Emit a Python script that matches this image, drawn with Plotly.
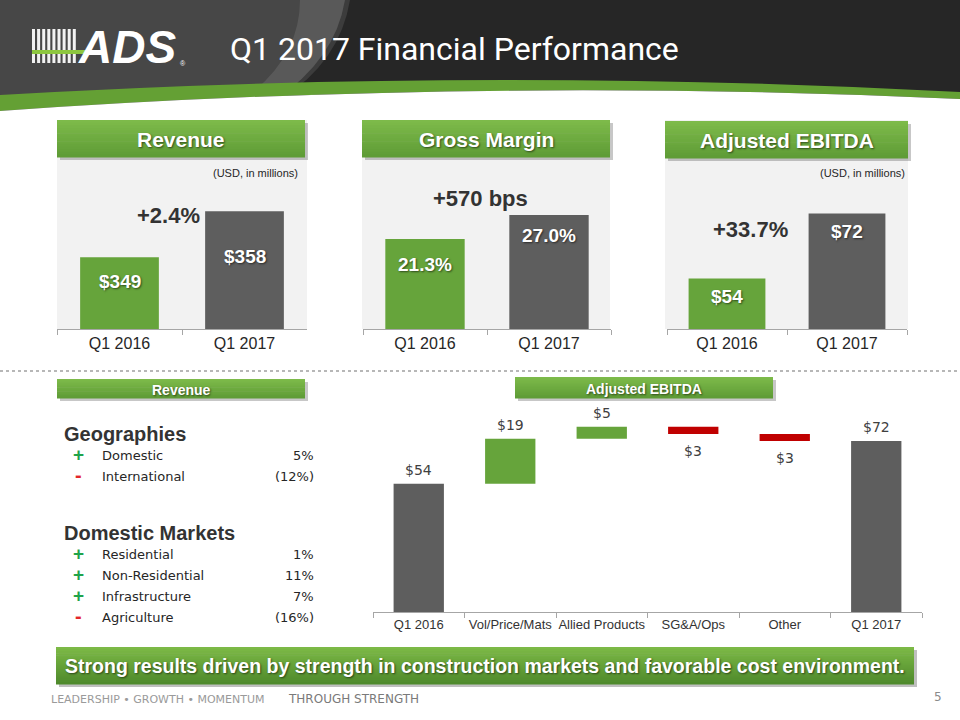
import plotly.graph_objects as go

W, H = 960, 720

# ---------------- data ----------------
periods = ["Q1 2016", "Q1 2017"]
revenue = [349, 358]
gross_margin = [21.3, 27.0]
adj_ebitda = [54, 72]
change_labels = ["+2.4%", "+570 bps", "+33.7%"]

bridge_categories = ["Q1 2016", "Vol/Price/Mats", "Allied Products", "SG&A/Ops", "Other", "Q1 2017"]
bridge_values = [54, 19, 5, -3, -3, 72]
bridge_measures = ["absolute", "relative", "relative", "relative", "relative", "total"]

geo_names = ["Domestic", "International"]
geo_changes = [5, -12]
market_names = ["Residential", "Non-Residential", "Infrastructure", "Agriculture"]
market_changes = [1, 11, 7, -16]

# ---------------- styles ----------------
GREEN = "#66a43b"
GRAY = "#5e5e5e"
RED = "#c00000"
HDR_TOP, HDR_BOT = "#7dba4a", "#5f9c36"
SANS = "Liberation Sans, Arial, sans-serif"
VERD = "DejaVu Sans, Verdana, sans-serif"
SHADOW = "1px 1px 2px rgba(0,0,0,0.55)"


def X(p):
    return p / W


def Y(p):
    return 1 - p / H


shapes = []
annotations = []


def hexrgb(c):
    c = c.lstrip("#")
    return tuple(int(c[i:i + 2], 16) for i in (0, 2, 4))


def mix(c1, c2, t):
    a, b = hexrgb(c1), hexrgb(c2)
    return "rgb(%d,%d,%d)" % tuple(round(a[i] + (b[i] - a[i]) * t) for i in range(3))


def rect(x0, y0, x1, y1, color, layer="below"):
    shapes.append(dict(type="rect", xref="paper", yref="paper", x0=X(x0), x1=X(x1),
                       y0=Y(y1), y1=Y(y0), fillcolor=color, line=dict(width=0), layer=layer))


def grad_rect(x0, y0, x1, y1, ctop, cbot, n=14):
    h = (y1 - y0) / n
    for i in range(n):
        rect(x0, y0 + i * h, x1, y0 + (i + 1) * h + 0.6, mix(ctop, cbot, i / (n - 1)))


def path(d_pts, color, layer="below"):
    shapes.append(dict(type="path", xref="paper", yref="paper", path=d_pts,
                       fillcolor=color, line=dict(width=0), layer=layer))


def P(x, y):
    return "%.5f,%.5f" % (X(x), Y(y))


def text(x, y, s, size, color="#333333", family=SANS, bold=False, xanchor="center",
         shadow=None, italic=False):
    f = dict(size=size, color=color, family=family)
    if bold:
        f["weight"] = "bold"
    if italic:
        f["style"] = "italic"
    if shadow:
        f["shadow"] = shadow
    annotations.append(dict(xref="paper", yref="paper", x=X(x), y=Y(y), text=s,
                            showarrow=False, xanchor=xanchor, yanchor="middle", font=f))


def header(x0, y0, x1, y1, label, size):
    rect(x0 + 3, y0 + 3, x1 + 3, y1 + 3, "rgba(0,0,0,0.22)")
    grad_rect(x0, y0, x1, y1, HDR_TOP, HDR_BOT)
    text((x0 + x1) / 2, (y0 + y1) / 2 + 1, label, size, "white", bold=True, shadow=SHADOW)


# ---------------- slide header ----------------
rect(0, 0, 960, 115, "#262626")
path("M" + P(0, 0) + " L" + P(345, 0) + " Q" + P(335, 60) + " " + P(275, 100)
     + " L" + P(0, 112) + " Z", "#474747")
path("M" + P(300, 0) + " L" + P(350, 0) + " Q" + P(340, 62) + " " + P(280, 100)
     + " L" + P(240, 102) + " Q" + P(300, 60) + " " + P(300, 0) + " Z", "rgba(255,255,255,0.10)")
# green swoosh
path("M" + P(0, 95) + " Q" + P(480, 66.5) + " " + P(960, 92) + " L" + P(960, 99)
     + " Q" + P(480, 77) + " " + P(0, 111) + " Z", "#64a034")
# white area below swoosh
path("M" + P(0, 111) + " Q" + P(480, 77) + " " + P(960, 99) + " L" + P(960, 130)
     + " L" + P(0, 130) + " Z", "#ffffff")

# logo
for i in range(9):
    rect(32 + i * 5.1, 29, 35 + i * 5.1, 63, "#f2f2f2")
rect(32, 50, 104, 54, "#8dc63f")
text(76, 47, "ADS", 46, "white", bold=True, italic=True, xanchor="left")
text(178, 63, "®", 7, "white", xanchor="left")
text(228, 49, "Q1 2017 Financial Performance", 32, "white", family="Roboto, sans-serif",
     xanchor="left")

# ---------------- top panels ----------------
panels = [(57, 307), (362, 610), (665, 908)]
for x0, x1 in panels:
    rect(x0, 120, x1, 329, "#f2f2f2")
header(57, 120, 305, 157, "Revenue", 21)
header(362, 120, 610, 157, "Gross Margin", 21)
header(665, 121, 908, 158, "Adjusted EBITDA", 21)
text(255, 173, "(USD, in millions)", 11, "#262626")
text(862, 173, "(USD, in millions)", 11, "#262626")
text(168, 215, change_labels[0], 22, "#333333", bold=True)
text(480, 198, change_labels[1], 22, "#333333", bold=True)
text(750, 230, change_labels[2], 22, "#333333", bold=True)

# ---------------- separator ----------------
shapes.append(dict(type="line", xref="paper", yref="paper", x0=0, x1=1, y0=Y(371), y1=Y(371),
                   line=dict(color="#a0a0a0", width=1.5, dash="dot"), layer="below"))

# ---------------- bottom left list ----------------
header(57, 379, 305, 398, "Revenue", 14)
header(515, 377, 773, 398, "Adjusted EBITDA", 14)


def row(y, name, chg):
    sign = "+" if chg > 0 else "-"
    col = "#1fa34a" if chg > 0 else "#e3262b"
    text(78, y - 1, sign, 19 if chg > 0 else 20, col, bold=True)
    text(100, y, name, 13, "#262626", family=VERD, xanchor="left")
    pct = "%d%%" % chg if chg >= 0 else "(%d%%)" % abs(chg)
    text(316, y, pct, 13, "#262626", family=VERD, xanchor="right")


text(62, 434, "Geographies", 20, "#333333", bold=True, xanchor="left")
for i, (n, c) in enumerate(zip(geo_names, geo_changes)):
    row(455 + 21 * i, n, c)
text(62, 533, "Domestic Markets", 20, "#333333", bold=True, xanchor="left")
for i, (n, c) in enumerate(zip(market_names, market_changes)):
    row(554 + 21 * i, n, c)

# ---------------- banner & footer ----------------
rect(59, 650, 917, 687, "rgba(0,0,0,0.25)")
grad_rect(56, 647, 914, 684, "#7cb946", "#4f8a2c", n=18)
text(485, 666, "Strong results driven by strength in construction markets and favorable cost environment.",
     19.5, "white", family=SANS, bold=True, shadow=SHADOW)
text(49, 699, "LEADERSHIP • GROWTH • MOMENTUM", 11, "#9a9a9a", family=VERD, xanchor="left")
text(286, 699, "THROUGH STRENGTH", 12, "#7a7a7a", family=VERD, xanchor="left")
text(938, 697, "5", 12, "#8a8a8a", family=VERD)

# ---------------- charts ----------------
fig = go.Figure()
bar_colors = [GREEN, GRAY]
fig.add_trace(go.Bar(x=periods, y=revenue, marker=dict(color=bar_colors, line=dict(width=0)),
                     width=0.63, xaxis="x", yaxis="y", hoverinfo="skip"))
fig.add_trace(go.Bar(x=periods, y=gross_margin, marker=dict(color=bar_colors, line=dict(width=0)),
                     width=0.64, xaxis="x2", yaxis="y2", hoverinfo="skip"))
fig.add_trace(go.Bar(x=periods, y=adj_ebitda, marker=dict(color=bar_colors, line=dict(width=0)),
                     width=0.64, xaxis="x3", yaxis="y3", hoverinfo="skip"))

fig.add_trace(go.Waterfall(
    x=bridge_categories, y=bridge_values, measure=bridge_measures, width=0.55,
    increasing=dict(marker=dict(color=GREEN)),
    decreasing=dict(marker=dict(color=RED)),
    totals=dict(marker=dict(color=GRAY)),
    connector=dict(visible=False),
    xaxis="x4", yaxis="y4", hoverinfo="skip"))

# waterfall value labels (placed at the running total of each step)
running = 0
for cat, v, m in zip(bridge_categories, bridge_values, bridge_measures):
    if m == "absolute":
        running = v
    elif m == "relative":
        running += v
    annotations.append(dict(xref="x4", yref="y4", x=cat, y=running,
                            yshift=14 if v > 0 else -17, text="$%d" % abs(v), showarrow=False,
                            font=dict(family=VERD, size=14, color="#404040")))

# bar value labels inside top charts
label_sets = [
    ("x", "y", revenue, ["$%d" % v for v in revenue], [-24, -45]),
    ("x2", "y2", gross_margin, ["%.1f%%" % v for v in gross_margin], [-25, -21]),
    ("x3", "y3", adj_ebitda, ["$%d" % v for v in adj_ebitda], [-18, -18]),
]
for xr, yr, vals, labs, shifts in label_sets:
    for p, v, lab, s in zip(periods, vals, labs, shifts):
        annotations.append(dict(xref=xr, yref=yr, x=p, y=v, yshift=s, text=lab, showarrow=False,
                                font=dict(family=SANS, size=19, color="white", weight="bold",
                                          shadow=SHADOW)))


def xax(d0, d1, anchor, size, color):
    return dict(domain=[X(d0), X(d1)], anchor=anchor, showline=True, linecolor="#a6a6a6",
                linewidth=1, ticks="outside", tickson="boundaries", ticklen=5,
                tickcolor="#a6a6a6", showgrid=False, zeroline=False, fixedrange=True,
                tickangle=0, automargin=False,
                tickfont=dict(family=SANS, size=size, color=color))


def yax(p0, p1, anchor, rng):
    return dict(domain=[Y(p0), Y(p1)], anchor=anchor, range=rng, visible=False,
                showgrid=False, zeroline=False, fixedrange=True)


fig.update_layout(
    width=W, height=H, autosize=False,
    margin=dict(l=0, r=0, t=0, b=0),
    paper_bgcolor="white", plot_bgcolor="rgba(0,0,0,0)",
    showlegend=False, bargap=0.3,
    xaxis=xax(57, 307, "y", 16, "#262626"),
    yaxis=yax(329, 160, "x", [335, 368]),
    xaxis2=xax(363, 611, "y2", 16, "#262626"),
    yaxis2=yax(329, 160, "x2", [0, 40]),
    xaxis3=xax(667, 907, "y3", 16, "#262626"),
    yaxis3=yax(329, 160, "x3", [40, 86.8]),
    xaxis4=xax(373, 922, "y4", 13, "#333333"),
    yaxis4=yax(612, 400, "x4", [0, 89.3]),
    shapes=shapes,
    annotations=annotations,
)

fig.write_html("out.html", config={"displayModeBar": False},
               post_script="document.body.style.margin='0';document.body.style.overflow='hidden';")
